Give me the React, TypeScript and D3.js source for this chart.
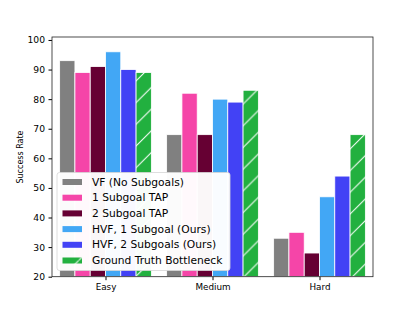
import React, { useEffect, useRef } from 'react';
import * as d3 from 'd3';

const categories = ['Easy', 'Medium', 'Hard'];
const seriesNames = [
  'VF (No Subgoals)',
  '1 Subgoal TAP',
  '2 Subgoal TAP',
  'HVF, 1 Subgoal (Ours)',
  'HVF, 2 Subgoals (Ours)',
  'Ground Truth Bottleneck',
];
const vf = [93, 68, 33];
const tap1 = [89, 82, 35];
const tap2 = [91, 68, 28];
const hvf1 = [96, 80, 47];
const hvf2 = [90, 79, 54];
const groundTruth = [89, 83, 68];
const yTicks = [20, 30, 40, 50, 60, 70, 80, 90, 100];

const colors = ['#808080', '#f545a8', '#660033', '#42a7f5', '#4242f5', '#22b03f'];

export default function App() {
  const ref = useRef<SVGSVGElement>(null);

  useEffect(() => {
    const svg = d3.select(ref.current);
    svg.selectAll('*').remove();

    const series = [vf, tap1, tap2, hvf1, hvf2, groundTruth];
    const left = 52, right = 373, top = 37, bottom = 276.7;
    const font = 'DejaVu Sans, sans-serif';

    const x = d3.scaleLinear().domain([-0.5, 2.5]).range([left, right]);
    const y = d3.scaleLinear().domain([20, 101]).range([bottom, top]);
    const barW = 1 / 7;

    // hatch for the ground truth bars
    const hs = 21.7;
    const pat = svg
      .append('defs')
      .append('pattern')
      .attr('id', 'hatch')
      .attr('patternUnits', 'userSpaceOnUse')
      .attr('width', hs)
      .attr('height', hs);
    pat.append('rect').attr('width', hs).attr('height', hs).attr('fill', colors[5]);
    pat
      .append('path')
      .attr('d', `M-2,${hs + 2} L${hs + 2},-2`)
      .attr('stroke', 'white')
      .attr('stroke-width', 1);

    series.forEach((vals, s) => {
      svg
        .append('g')
        .selectAll('rect')
        .data(vals)
        .enter()
        .append('rect')
        .attr('x', (d, i) => x(i + (s - 2.5) * barW - barW / 2))
        .attr('width', x(barW) - x(0))
        .attr('y', d => y(d))
        .attr('height', d => bottom - y(d))
        .attr('fill', s === 5 ? 'url(#hatch)' : colors[s])
        .attr('stroke', 'white')
        .attr('stroke-width', 0.8);
    });

    // axes
    const yAxis = d3.axisLeft(y).tickValues(yTicks).tickSize(3.5).tickPadding(3.5);
    const gy = svg.append('g').attr('transform', `translate(${left},0)`).call(yAxis);
    gy.select('.domain').remove();
    gy.selectAll('text').attr('font-family', font).attr('font-size', 9.2).attr('fill', '#000');

    const xAxis = d3
      .axisBottom(x)
      .tickValues([0, 1, 2])
      .tickFormat(d => categories[d as number])
      .tickSize(3.5)
      .tickPadding(3.5);
    const gx = svg.append('g').attr('transform', `translate(0,${bottom})`).call(xAxis);
    gx.select('.domain').remove();
    gx.selectAll('text').attr('font-family', font).attr('font-size', 8.8).attr('fill', '#000');

    svg
      .append('rect')
      .attr('x', left)
      .attr('y', top)
      .attr('width', right - left)
      .attr('height', bottom - top)
      .attr('fill', 'none')
      .attr('stroke', '#222')
      .attr('stroke-width', 0.8);

    svg
      .append('text')
      .attr('transform', `translate(20,157) rotate(-90)`)
      .attr('text-anchor', 'middle')
      .attr('dominant-baseline', 'central')
      .attr('font-family', font)
      .attr('font-size', 8)
      .text('Success Rate');

    // legend
    const lg = svg.append('g').attr('transform', 'translate(57,172.5)');
    lg.append('rect')
      .attr('width', 173)
      .attr('height', 98)
      .attr('rx', 2.5)
      .attr('fill', 'white')
      .attr('fill-opacity', 0.97)
      .attr('stroke', '#d6d6d6')
      .attr('stroke-width', 0.8);
    seriesNames.forEach((name, i) => {
      const row = lg.append('g').attr('transform', `translate(0,${9.5 + i * 15.7})`);
      row
        .append('rect')
        .attr('x', 5.5)
        .attr('y', -3)
        .attr('width', 19.5)
        .attr('height', 6)
        .attr('fill', i === 5 ? 'url(#hatch)' : colors[i]);
      row
        .append('text')
        .attr('x', 35)
        .attr('y', 0)
        .attr('dominant-baseline', 'central')
        .attr('font-family', font)
        .attr('font-size', 10.7)
        .text(name);
    });
  }, []);

  return (
    <svg
      ref={ref}
      width={415}
      height={311}
      style={{ display: 'block', position: 'absolute', left: 0, top: 0 }}
    />
  );
}
